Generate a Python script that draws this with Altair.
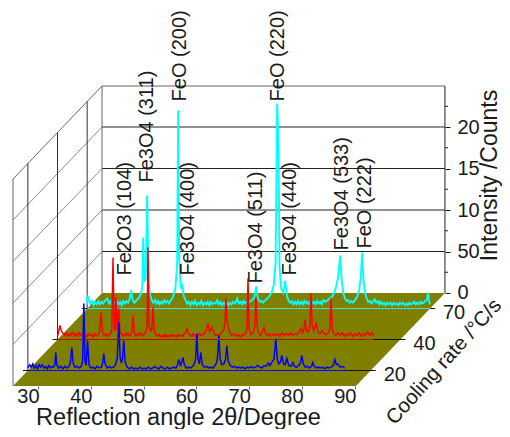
import altair as alt
import pandas as pd

FONT = "Liberation Sans"
INK = "#1a1a1a"

# Oblique projection: one cooling-rate band moves a point this far along each scale
BAND_DX = 5.62
BAND_DY = 3.735
ANGLE_MIN, ANGLE_MAX = 25.27, 90.22
COUNT_TOP = 24.94

rate_labels = ["20", "40", "70"]
rate_depths = [0.5, 1.5, 2.5]
angle_ticks = [30, 40, 50, 60, 70, 80, 90]
count_ticks = [0, 5, 10, 15, 20]
count_minor = [2.5, 7.5, 12.5, 17.5, 22.5]

blue_points = [
(25.3,.3),(25.6,.7),(25.9,.4),(26.2,.8),(26.5,.3),(26.8,.6),(27.1,.2),(27.4,.7),(27.7,.4),(28.0,.7),(28.3,.3),(28.6,.5),
(28.9,.2),(29.2,.6),(29.5,.3),(29.8,.5),(30.1,.4),(30.4,.7),(30.57,2.17),(30.75,.7),(31.1,.3),(31.5,.5),(31.9,.2),(32.3,.5),
(32.7,.3),(33.1,.5),(33.35,1.0),(33.6,2.77),(33.85,.9),(34.2,.4),(34.6,.5),(35.0,.3),(35.4,.5),(35.65,1.1),(35.88,8.07),(36.1,1.2),
(36.3,.6),(36.58,3.61),(36.85,.7),(37.2,.3),(37.6,.4),(38.0,.2),(38.4,.5),(38.8,.3),(39.2,.4),(39.45,.9),(39.66,2.05),(39.9,.8),
(40.3,.3),(40.7,.5),(41.1,.3),(41.5,.4),(41.9,.7),(42.2,1.5),(42.5,5.78),(42.75,1.6),(43.0,.9),(43.2,1.4),(43.45,3.61),(43.7,1.0),
(44.1,.4),(44.5,.2),(44.9,.4),(45.3,.2),(45.7,.3),(46.1,.2),(46.5,.4),(46.9,.2),(47.3,.3),(47.7,.2),(48.1,.4),(48.5,.2),
(48.9,.3),(49.3,.5),(49.7,.3),(50.1,.2),(50.5,.5),(50.9,.3),(51.3,.2),(51.7,.4),(52.1,.2),(52.5,.3),(52.9,.4),(53.3,.3),
(53.6,.6),(53.87,1.33),(54.2,.5),(54.63,1.57),(54.95,.6),(55.3,.3),(55.7,.4),(56.1,.3),(56.5,.5),(56.8,.8),(57.05,1.4),(57.28,4.46),
(57.5,1.4),(57.75,.8),(58.03,2.17),(58.3,.7),(58.7,.4),(59.1,.5),(59.5,.3),(59.9,.4),(60.3,.3),(60.7,.6),(61.0,.9),(61.2,1.6),
(61.44,4.22),(61.7,1.4),(62.0,.7),(62.4,.8),(62.7,1.3),(62.96,3.01),(63.2,1.2),(63.6,.6),(64.0,.4),(64.4,.5),(64.8,.3),(65.2,.4),
(65.6,.3),(66.0,.4),(66.4,.2),(66.8,.4),(67.2,.3),(67.6,.5),(68.0,.3),(68.4,.4),(68.8,.6),(69.2,.4),(69.6,.3),(70.0,.6),
(70.4,.5),(70.8,.9),(71.1,.6),(71.5,1.0),(71.9,1.4),(72.24,3.86),(72.5,1.4),(72.8,.8),(73.1,1.0),(73.38,1.81),(73.7,.8),(74.0,.7),
(74.32,1.45),(74.7,.6),(75.1,.5),(75.46,.96),(75.8,.5),(76.2,.4),(76.6,.6),(76.9,.9),(77.16,1.81),(77.45,.8),(77.8,.4),(78.2,.5),
(78.6,.3),(79.0,.5),(79.25,.96),(79.5,.5),(79.9,.3),(80.3,.4),(80.7,.3),(81.1,.4),(81.5,.2),(81.9,.4),(82.3,.3),(82.7,.4),
(83.1,.6),(83.41,1.33),(83.7,.7),(84.0,.8),(84.4,.4),(84.8,.5),(85.3,.3),
]

red_points = [
(25.3,.4),(25.5,1.0),(25.74,1.69),(26.0,1.0),(26.3,.8),(26.6,.5),(26.9,.8),(27.2,.4),(27.5,.7),(27.8,.5),(28.1,.9),(28.4,.4),
(28.7,.7),(29.0,.4),(29.3,.8),(29.6,.5),(29.9,.7),(30.2,.4),(30.5,.6),(30.8,.3),(31.1,.7),(31.4,.5),(31.7,.6),(32.0,.3),
(32.3,.7),(32.6,.4),(32.9,.6),(33.2,.8),(33.51,3.25),(33.8,.8),(34.1,.5),(34.4,.7),(34.7,.4),(35.0,.6),(35.3,.7),(35.55,1.2),
(35.78,9.88),(36.0,1.5),(36.15,1.0),(36.35,5.06),(36.55,1.2),(36.86,3.73),(37.1,1.0),(37.4,.6),(37.7,.4),(38.0,.7),(38.3,.5),(38.6,.8),
(38.9,.4),(39.3,.7),(39.57,2.89),(39.85,.7),(40.2,.4),(40.5,.7),(40.8,.5),(41.1,.8),(41.4,.5),(41.8,.7),(42.1,1.0),(42.25,1.6),
(42.41,11.08),(42.6,1.7),(42.9,1.0),(43.1,1.2),(43.36,3.86),(43.6,1.0),(43.9,.6),(44.2,.4),(44.5,.6),(44.8,.3),(45.1,.5),(45.4,.3),
(45.7,.6),(46.0,.3),(46.3,.5),(46.6,.3),(46.9,.6),(47.2,.4),(47.5,.5),(47.8,.3),(48.1,.6),(48.4,.4),(48.7,.5),(49.0,.4),
(49.3,.7),(49.55,.9),(49.8,1.33),(50.1,.7),(50.4,.6),(50.7,.4),(51.0,.7),(51.3,.4),(51.6,.6),(51.9,.4),(52.2,.7),(52.5,.5),
(52.8,.6),(53.1,.7),(53.4,1.0),(53.77,1.93),(54.1,.9),(54.53,1.45),(54.9,.8),(55.2,.5),(55.5,.6),(55.8,.4),(56.1,.7),(56.5,.9),
(56.8,1.3),(57.0,2.2),(57.18,4.94),(57.4,2.2),(57.7,1.2),(58.0,.7),(58.3,.5),(58.7,.7),(59.1,.4),(59.5,.6),(59.9,.3),(60.3,.6),
(60.6,.5),(60.9,.7),(61.15,1.2),(61.35,7.35),(61.55,1.3),(61.9,.6),(62.3,.8),(62.6,1.4),(62.86,5.06),(63.1,1.4),(63.4,.7),(63.7,.5),
(64.0,.8),(64.38,1.45),(64.7,.7),(65.0,.5),(65.4,.7),(65.8,.4),(66.2,.7),(66.6,.5),(67.0,.7),(67.4,.4),(67.8,.8),(68.2,.5),
(68.6,.7),(69.0,.5),(69.4,.8),(69.8,.5),(70.2,.7),(70.6,.6),(71.0,.8),(71.39,1.33),(71.7,.8),(71.9,1.2),(72.15,2.41),(72.4,1.0),
(72.8,.9),(73.05,1.6),(73.28,5.54),(73.5,1.6),(73.8,1.0),(74.23,2.05),(74.6,.9),(75.0,.7),(75.37,1.08),(75.8,.7),(76.2,.6),(76.6,.8),
(76.85,1.3),(77.07,4.94),(77.3,1.2),(77.6,.7),(78.0,.5),(78.4,.8),(78.8,.5),(79.2,.8),(79.6,.4),(80.0,.7),(80.4,.5),(80.8,.8),
(81.2,.4),(81.6,.7),(82.0,.5),(82.4,.8),(82.8,.4),(83.2,.7),(83.6,.5),(84.0,.9),(84.4,.5),(84.8,.8),(85.2,.4),
]

cyan_points = [
(25.3,.5),(25.36,1.57),(25.6,1.0),(25.9,.6),(26.2,.9),(26.5,.4),(26.8,.8),(27.1,.5),(27.4,.9),(27.7,.5),(28.0,.8),(28.3,.6),
(28.6,.9),(29.06,1.2),(29.4,.6),(29.7,.9),(30.0,.4),(30.3,.8),(30.6,.5),(30.9,.9),(31.2,.5),(31.5,.8),(31.8,.4),(32.1,.9),
(32.4,.6),(32.7,.9),(33.0,.7),(33.3,1.1),(33.6,2.17),(33.9,1.0),(34.2,.7),(34.5,.9),(34.8,1.1),(35.1,1.3),(35.4,1.7),(35.7,2.5),
(35.88,8.55),(36.1,3.2),(36.35,3.6),(36.63,13.6),(36.9,3.0),(37.2,1.6),(37.5,1.0),(37.8,.7),(38.1,1.0),(38.4,.6),(38.7,.9),(39.0,.5),
(39.3,.8),(39.6,.6),(39.9,1.0),(40.2,.7),(40.5,.9),(40.8,.6),(41.1,1.0),(41.4,1.2),(41.7,1.7),(42.0,2.6),(42.32,5.54),(42.5,23.86),
(42.7,6.2),(43.0,2.4),(43.26,3.0),(43.55,1.5),(43.9,1.0),(44.2,.6),(44.5,.8),(44.8,.4),(45.1,.8),(45.4,.5),(45.7,.9),(46.0,.4),
(46.3,.7),(46.6,.5),(46.9,.9),(47.2,.4),(47.5,.7),(47.8,.5),(48.1,.8),(48.4,.4),(48.7,.8),(49.0,.5),(49.3,.7),(49.6,.6),
(49.89,.96),(50.2,.5),(50.5,.8),(50.8,.4),(51.1,.7),(51.4,.5),(51.7,.8),(52.0,.4),(52.3,.7),(52.6,.5),(52.9,.8),(53.3,.6),
(53.68,1.2),(54.0,.6),(54.3,.8),(54.6,.5),(54.9,.9),(55.2,.6),(55.5,.8),(55.8,.6),(56.1,.9),(56.5,1.0),(56.9,1.3),(57.28,2.65),
(57.6,1.2),(58.0,.8),(58.3,.9),(58.6,.7),(59.0,1.0),(59.4,1.2),(59.8,1.5),(60.2,1.9),(60.6,2.8),(60.95,5.5),(61.25,24.7),(61.5,19.9),
(61.7,5.0),(62.0,2.4),(62.4,1.9),(62.77,3.37),(63.1,1.5),(63.4,1.0),(63.7,.7),(64.0,.9),(64.3,.5),(64.6,.8),(64.9,.5),(65.2,.9),
(65.5,.5),(65.8,.8),(66.1,.5),(66.4,.9),(66.7,.6),(67.0,.8),(67.3,.5),(67.6,.9),(67.9,.6),(68.2,.8),(68.5,.5),(68.8,.9),
(69.1,.6),(69.4,.8),(69.7,.5),(70.0,1.0),(70.4,.8),(70.8,1.0),(71.2,1.2),(71.6,1.4),(72.0,1.8),(72.4,2.6),(72.8,3.8),(73.19,6.39),
(73.5,3.2),(73.8,1.8),(74.1,1.2),(74.4,.9),(74.7,1.0),(75.0,.7),(75.3,.9),(75.6,.7),(76.0,1.0),(76.4,1.4),(76.8,2.3),(77.1,3.8),
(77.35,6.75),(77.6,3.5),(77.9,1.9),(78.2,1.2),(78.5,.8),(78.8,.9),(79.1,.6),(79.4,.8),(79.7,1.1),(80.0,.7),(80.3,.9),(80.6,.5),
(80.9,.8),(81.2,.5),(81.5,.7),(81.8,.4),(82.1,.7),(82.4,.5),(82.7,.7),(83.0,.4),(83.3,.7),(83.6,.5),(83.9,.6),(84.2,.4),
(84.5,.7),(84.8,.5),(85.1,.7),(85.4,.4),(85.7,.6),(86.0,.4),(86.3,.7),(86.6,.5),(86.9,.6),(87.2,.8),(87.5,.5),(87.8,.7),
(88.1,.5),(88.4,.8),(88.7,.6),(89.0,.7),(89.3,.9),(89.6,1.0),(89.85,1.81),(90.05,.8),(90.2,.5),
]

peak_names = ["Fe2O3 (104)", "Fe3O4 (311)", "FeO (200)", "Fe3O4 (400)", "Fe3O4 (511)",
              "FeO (220)", "Fe3O4 (440)", "Fe3O4 (533)", "FeO (222)"]
peak_angles = [32.47, 36.63, 42.88, 44.40, 57.28, 61.44, 63.72, 73.57, 77.92]
peak_counts = [3.98, 15.18, 24.95, 3.98, 3.01, 24.95, 3.98, 6.99, 7.23]


def sx(angle, depth):
    return angle + depth * BAND_DX


def sy(count, depth):
    return count + (depth - 3) * BAND_DY


x_scale = alt.Scale(domain=[ANGLE_MIN, ANGLE_MIN + 81.82], range=[0, 432], nice=False, zero=False)
y_scale = alt.Scale(domain=[-3 * BAND_DY, COUNT_TOP], range=[300, 0], nice=False, zero=False)

x_axis = alt.Axis(
    values=angle_ticks, title="Reflection angle 2θ/Degree", grid=False, domain=False,
    tickSize=3, tickColor="#666666", labelOffset=-10, labelPadding=-3, labelFontSize=20,
    labelFont=FONT, labelColor=INK, titleFont=FONT, titleFontSize=23.5, titleFontWeight="normal",
    titleColor=INK, titleX=165, titleY=31, titleAlign="center", titleBaseline="middle",
    labelOverlap=False, format="d")
y_axis = alt.Axis(
    orient="right", values=count_ticks, title="Intensity /Counts", grid=False, domain=False,
    tickSize=5, tickColor=INK, labelPadding=7, labelFontSize=20, labelFont=FONT, labelColor=INK,
    labelExpr="datum.value == 5 ? '50' : datum.label", labelAlign="left", labelBaseline="middle",
    titleFont=FONT, titleFontSize=23, titleFontWeight="normal", titleColor=INK, titleAngle=270,
    titleX=44, titleY=89, titleAlign="center", titleBaseline="middle", labelOverlap=False)

X = lambda f="x": alt.X(f"{f}:Q", scale=x_scale, axis=x_axis)
Y = lambda f="y": alt.Y(f"{f}:Q", scale=y_scale, axis=y_axis)


def segments(rows):
    out = []
    for i, (a0, c0, d0, a1, c1, d1) in enumerate(rows):
        out.append({"g": i, "x": sx(a0, d0), "y": sy(c0, d0)})
        out.append({"g": i, "x": sx(a1, d1), "y": sy(c1, d1)})
    return pd.DataFrame(out)


def seg_layer(rows, color, width=1.0):
    return alt.Chart(segments(rows)).mark_line(color=color, strokeWidth=width, clip=False).encode(
        x=X(), y=Y(), detail="g:N")


# Floor
floor_df = pd.DataFrame([
    {"y": sy(0, 3), "x": sx(ANGLE_MIN, 3), "x2": sx(ANGLE_MAX, 3)},
    {"y": sy(0, 0), "x": sx(ANGLE_MIN, 0), "x2": sx(ANGLE_MAX, 0)},
])
floor = alt.Chart(floor_df).mark_area(orient="horizontal", color="#808000", opacity=1).encode(
    x=X(), x2="x2:Q", y=Y())

# Walls
back_rows = [(ANGLE_MIN, c, 3, ANGLE_MAX, c, 3) for c in [5, 10, 15, 20]]
side_rows = [(ANGLE_MIN, c, 3, ANGLE_MIN, c, 0) for c in [5, 10, 15, 20]]
top_rows = [(ANGLE_MIN, COUNT_TOP, 3, ANGLE_MAX, COUNT_TOP, 3),
            (ANGLE_MIN, COUNT_TOP, 3, ANGLE_MIN, COUNT_TOP, 0),
            (ANGLE_MIN, 0, 3, ANGLE_MIN, COUNT_TOP, 3),
            (ANGLE_MIN, 0, 0, ANGLE_MIN, COUNT_TOP, 0)]
band_rows = [(ANGLE_MIN, 0, d, ANGLE_MIN, COUNT_TOP, d) for d in rate_depths]
right_rows = [(ANGLE_MAX, 0, 3, ANGLE_MAX, COUNT_TOP, 3)]

minor_df = pd.DataFrame({"y": count_minor, "x": [sx(ANGLE_MAX, 3)] * 5, "x2": [sx(ANGLE_MAX, 3) + 0.57] * 5})
minor = alt.Chart(minor_df).mark_rule(color=INK, strokeWidth=1).encode(x=X(), x2="x2:Q", y=Y())

# Band base lines with their outer tick marks
base_rows = [(ANGLE_MIN - 0.95, 0, d, ANGLE_MAX + 0.95, 0, d) for d in rate_depths]


def series(points, depth, color, base_color, width):
    df = pd.DataFrame(points, columns=["angle", "count"])
    df["x"] = sx(df["angle"], depth)
    df["y"] = sy(df["count"], depth)
    df["o"] = range(len(df))
    line = alt.Chart(df).mark_line(color=color, strokeWidth=width, clip=False).encode(x=X(), y=Y(), order="o:Q")
    first, last = points[0][0], points[-1][0]
    base = seg_layer([(first, 0, depth, last, 0, depth)], base_color, 1.0)
    return [base, line]


rate_df = pd.DataFrame({"t": rate_labels,
                        "x": [sx(ANGLE_MAX, d) for d in rate_depths],
                        "y": [sy(0, d) for d in rate_depths]})
rate_text = alt.Chart(rate_df).mark_text(font=FONT, fontSize=20, color=INK, align="center",
                                         baseline="middle", dx=24, dy=5).encode(x=X(), y=Y(), text="t:N")

peak_df = pd.DataFrame({"t": peak_names,
                        "x": [sx(a, 2.5) for a in peak_angles],
                        "y": [sy(c, 2.5) for c in peak_counts]})
peak_text = alt.Chart(peak_df).mark_text(font=FONT, fontSize=20, color=INK, align="left",
                                         baseline="middle", angle=270).encode(x=X(), y=Y(), text="t:N")

cool_df = pd.DataFrame({"t": ["Cooling rate /°C/s"], "x": [106.9], "y": [-8.3]})
cool_text = alt.Chart(cool_df).mark_text(font=FONT, fontSize=20.5, color=INK, align="center",
                                         baseline="middle", angle=312).encode(x=X(), y=Y(), text="t:N")

layers = [
    floor,
    seg_layer(side_rows, "#8c8c8c", 1.0),
    seg_layer(back_rows, "#222222", 1.0),
    seg_layer(top_rows, "#666666", 1.0),
    seg_layer(band_rows, "#333333", 1.0),
    seg_layer(right_rows, "#222222", 1.0),
    minor,
    seg_layer(base_rows, "#111111", 1.0),
    *series(cyan_points, 2.5, "#00ffff", "#40e0d0", 1.9),
    *series(red_points, 1.5, "#ff0000", "#cc0000", 1.5),
    *series(blue_points, 0.5, "#0000ff", "#0000ff", 1.5),
    peak_text,
    rate_text,
    cool_text,
]

chart = alt.layer(*layers).properties(
    width=432, height=300,
    autosize=alt.AutoSizeParams(type="none"),
    padding={"left": 5, "top": 78, "right": 57, "bottom": 43},
    background="white",
).configure_view(stroke=None)

chart.save("out.html", embed_options={"renderer": "svg", "actions": False})
